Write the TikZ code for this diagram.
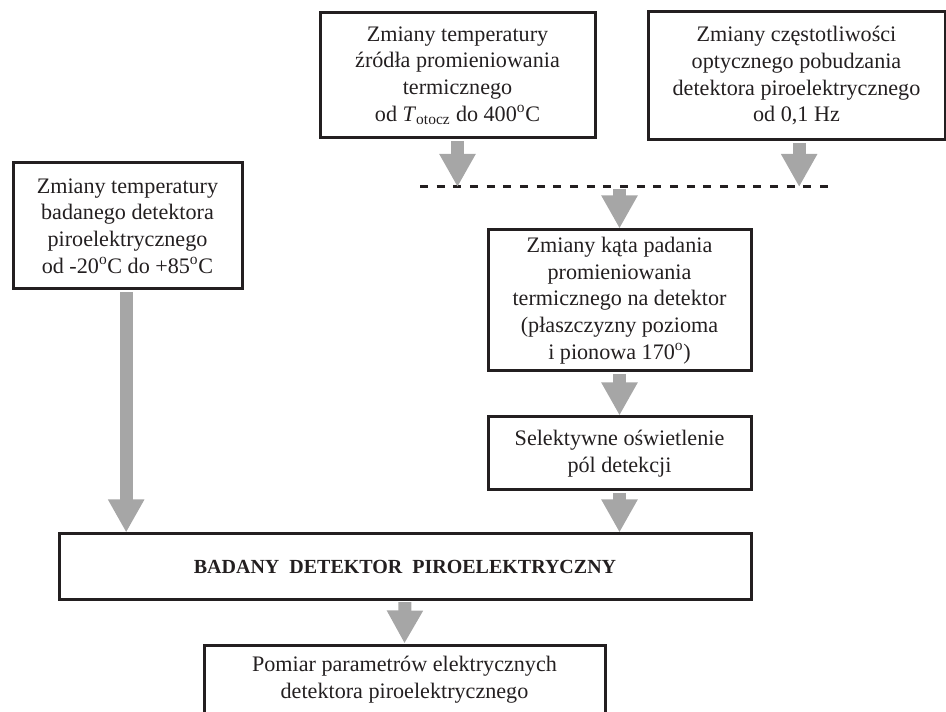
\documentclass[tikz,border=0pt]{standalone}
\usepackage{fontspec}
\setmainfont{Liberation Serif}
\usetikzlibrary{arrows.meta}

\definecolor{ink}{HTML}{231F20}
\definecolor{arrowgray}{HTML}{A6A6A6}

\tikzset{
  box/.style={draw=ink, line width=2.25pt, align=center, inner sep=0pt,
    text=ink, font=\fontsize{16.6}{20}\selectfont},
  flow/.style={draw=arrowgray, line width=9.75pt, shorten <=1.2pt,
    -{Triangle[width=25.5pt,length=24.75pt]}},
  dashline/.style={draw=ink, line width=2.25pt, dash pattern=on 6pt off 6.5pt}
}

\begin{document}
\begin{tikzpicture}[x=0.75pt, y=-0.75pt]
\useasboundingbox (0,0) rectangle (946,712);
\clip (0,0) rectangle (946,712);

% Input conditions
\node[box, minimum width=206.25pt, minimum height=93.75pt] (tempsrc) at (457.5,75.5)
  {Zmiany temperatury\\ źródła promieniowania\\ termicznego\\
   od \textit{T}\textsubscript{otocz} do 400\textsuperscript{o}C};
\node[box, minimum width=222.75pt, minimum height=96pt] (freq) at (796.5,76)
  {Zmiany częstotliwości\\ optycznego pobudzania\\ detektora piroelektrycznego\\ od 0,1 Hz};
\node[box, minimum width=171.75pt, minimum height=94.5pt] (tempdet) at (127.5,226)
  {Zmiany temperatury\\ badanego detektora\\ piroelektrycznego\\
   od -20\textsuperscript{o}C do +85\textsuperscript{o}C};

% Dashed junction line
\coordinate (dashL) at (420,187);
\coordinate (dashR) at (832,187);
\draw[dashline] (dashL) -- (dashR);

% Illumination chain
\node[box, minimum width=197.25pt, minimum height=105.75pt] (angle) at (619.5,300.5)
  {Zmiany kąta padania\\ promieniowania\\ termicznego na detektor\\
   (płaszczyzny pozioma\\ i pionowa 170\textsuperscript{o})};
\node[box, minimum width=197.25pt, minimum height=54.75pt] (select) at (619.5,453.5)
  {Selektywne oświetlenie\\ pól detekcji};

% Device under test and measurement
\node[box, minimum width=519pt, minimum height=48.75pt, font=\fontsize{15}{18}\selectfont\bfseries]
  (dut) at (405,566.5) {BADANY~~DETEKTOR~~PIROELEKTRYCZNY};
\node[box, minimum width=300.75pt, minimum height=52.5pt] (meas) at (404.5,680)
  {Pomiar parametrów elektrycznych\\ detektora piroelektrycznego};

% Flow arrows
\draw[flow] (tempsrc.south) -- (tempsrc.south |- dashL);
\draw[flow] ([xshift=2pt]freq.south) -- ([xshift=2pt]freq.south |- dashL);
\draw[flow] (angle.north |- dashR) -- (angle.north);
\draw[flow] (angle.south) -- (select.north);
\draw[flow] ([xshift=-1pt]tempdet.south) -- ([xshift=-1pt]tempdet.south |- dut.north);
\draw[flow] (select.south) -- (select.south |- dut.north);
\draw[flow] (dut.south) -- (meas.north);

\end{tikzpicture}
\end{document}
